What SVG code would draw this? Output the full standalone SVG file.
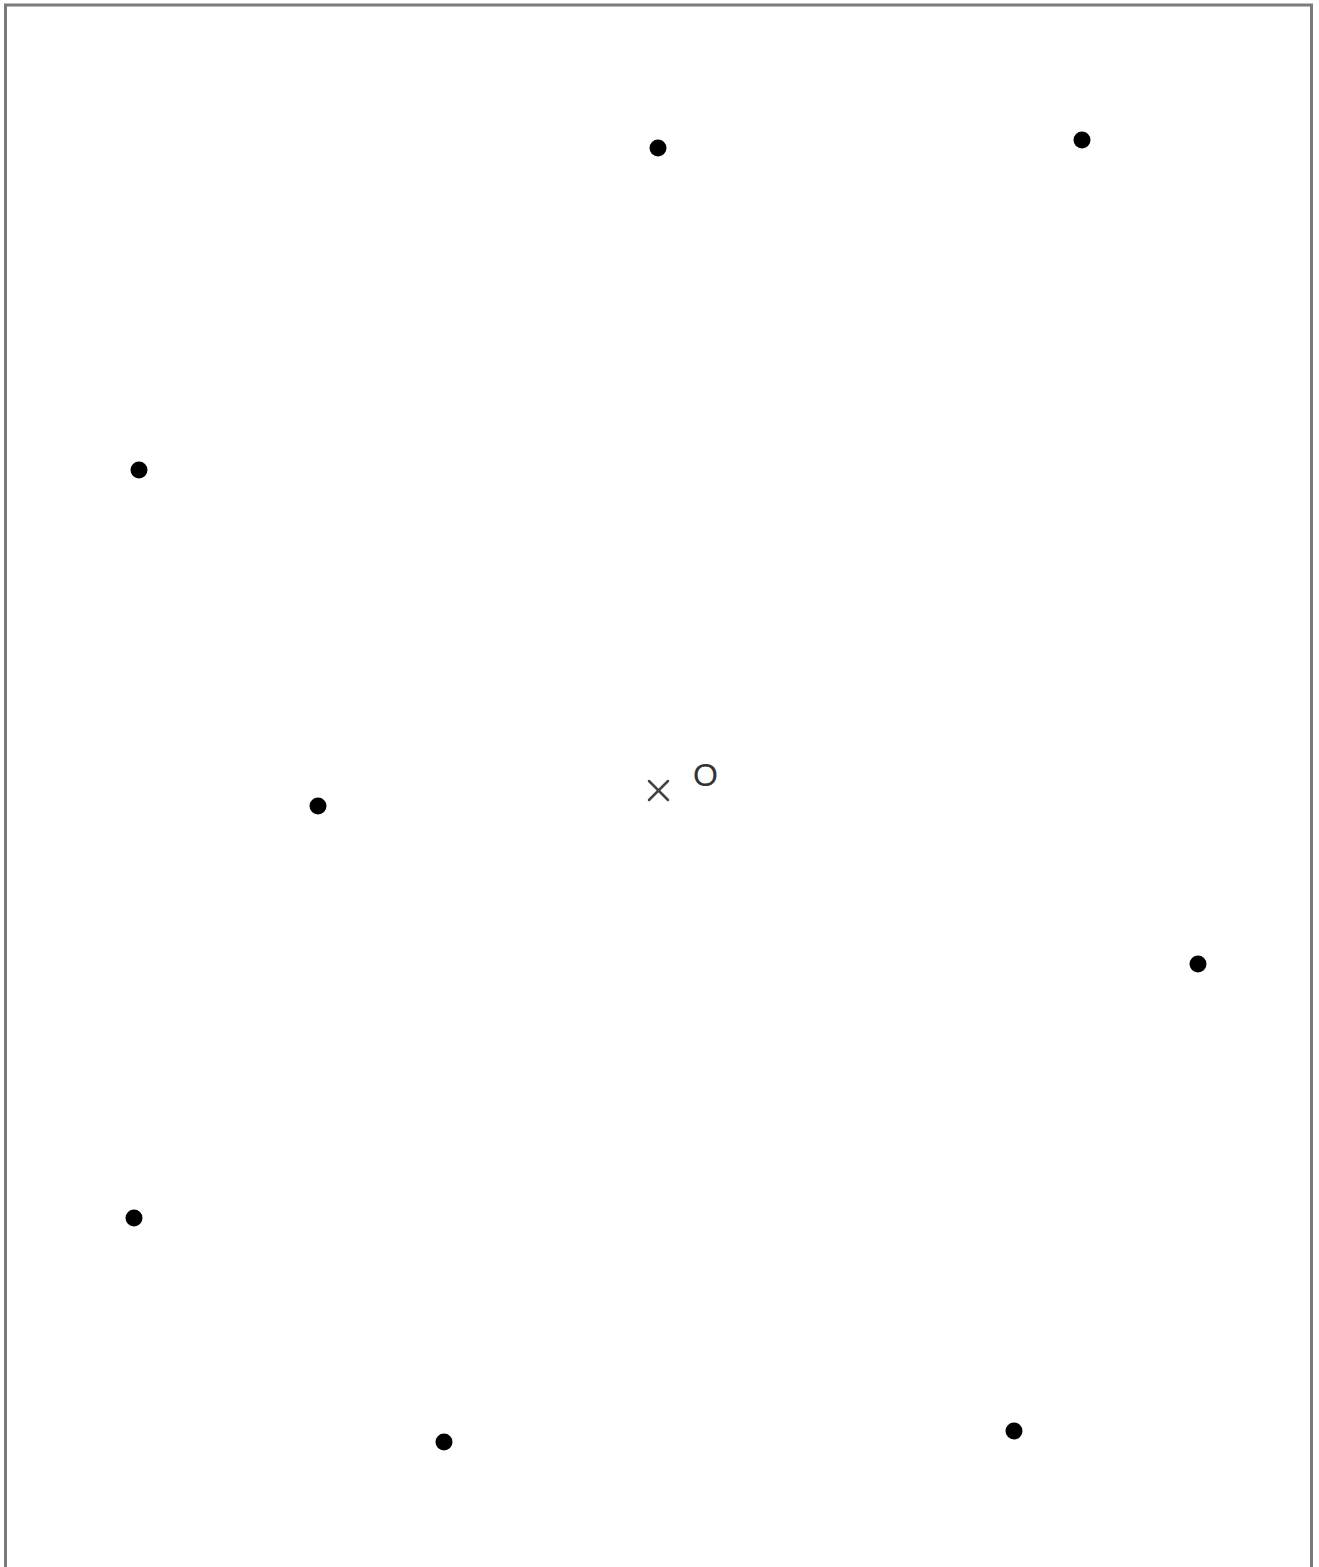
<svg xmlns="http://www.w3.org/2000/svg" width="1319" height="1567" viewBox="0 0 1319 1567">
<style>
.pt{fill:#000}
.frame{fill:none;stroke:#7a7a7a;stroke-width:3}
.cross{stroke:#444;stroke-width:2.5;stroke-linecap:round}
.lbl{font-family:"Liberation Sans",Arial,sans-serif;font-size:32px;fill:#333}
</style>
<rect width="1319" height="1567" fill="#fff"/>
<path class="frame" d="M5.5,1570 V5 H1311.5 V1570"/>
<g id="points">
<circle id="p1" class="pt" cx="658" cy="148" r="8.5"/>
<circle id="p2" class="pt" cx="1082" cy="140" r="8.5"/>
<circle id="p3" class="pt" cx="139" cy="470" r="8.5"/>
<circle id="p4" class="pt" cx="318" cy="806" r="8.5"/>
<circle id="p5" class="pt" cx="1198" cy="964" r="8.5"/>
<circle id="p6" class="pt" cx="134" cy="1218" r="8.5"/>
<circle id="p7" class="pt" cx="444" cy="1442" r="8.5"/>
<circle id="p8" class="pt" cx="1014" cy="1431" r="8.5"/>
</g>
<g id="center">
<line class="cross" x1="649" y1="781" x2="668" y2="800"/>
<line class="cross" x1="668" y1="781" x2="649" y2="800"/>
<text class="lbl" x="693" y="786">O</text>
</g>
</svg>
